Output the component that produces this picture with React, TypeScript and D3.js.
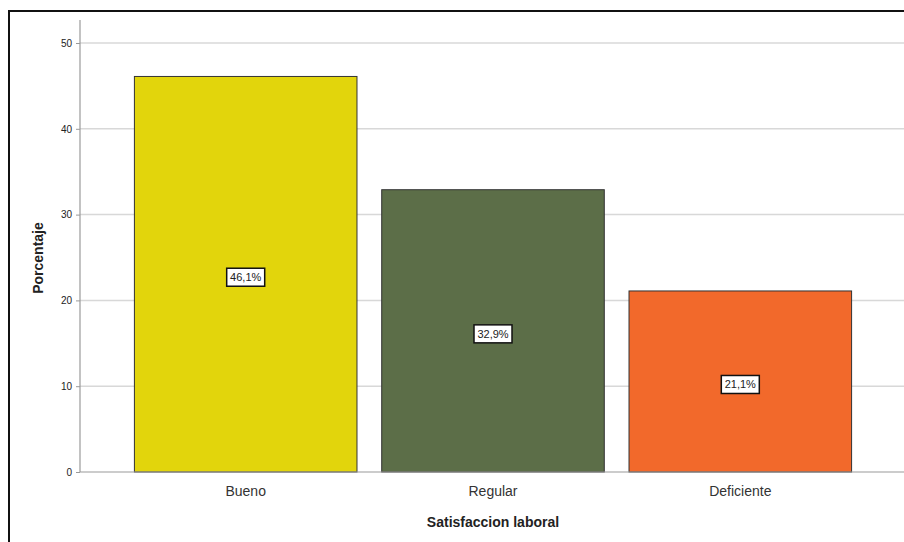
import React, { useEffect, useRef } from 'react';
import * as d3 from 'd3';

const categories = ['Bueno', 'Regular', 'Deficiente'];
const values = [46.1, 32.9, 21.1];
const labels = ['46,1%', '32,9%', '21,1%'];
const colors = ['#e2d50c', '#5c6e48', '#f2692b'];
const yTicks = [0, 10, 20, 30, 40, 50];

const App: React.FC = () => {
  const ref = useRef<SVGSVGElement | null>(null);

  useEffect(() => {
    const svg = d3.select(ref.current);
    svg.selectAll('*').remove();
    const width = 904;
    const height = 542;

    const x = d3.scaleBand<string>()
      .domain(categories)
      .range([80, 906])
      .paddingInner(0.1)
      .paddingOuter(0.22);

    const y = d3.scaleLinear()
      .domain([0, 50])
      .range([472, 43]);

    // frame
    svg.append('rect')
      .attr('x', 9).attr('y', 11)
      .attr('width', width).attr('height', height)
      .attr('fill', '#fff')
      .attr('stroke', '#111')
      .attr('stroke-width', 2);

    // gridlines
    svg.append('g')
      .selectAll('line')
      .data(yTicks.filter(d => d > 0))
      .join('line')
      .attr('x1', 80).attr('x2', width + 10)
      .attr('y1', d => y(d)).attr('y2', d => y(d))
      .attr('stroke', '#d8d8d8')
      .attr('stroke-width', 1.5);

    // y axis
    const yAxis = svg.append('g')
      .attr('transform', 'translate(80,0)')
      .call(d3.axisLeft(y).tickValues(yTicks).tickSize(4).tickPadding(4));
    yAxis.select('.domain').remove();
    yAxis.selectAll('.tick line').attr('stroke', '#999');
    yAxis.selectAll('.tick text')
      .attr('fill', '#222')
      .attr('font-family', 'Arial, "Liberation Sans", sans-serif')
      .attr('font-size', 10);
    svg.append('line')
      .attr('x1', 80).attr('x2', 80)
      .attr('y1', 20).attr('y2', y(0))
      .attr('stroke', '#9a9a9a')
      .attr('stroke-width', 1.2);

    // bars
    svg.append('g')
      .selectAll('rect')
      .data(values)
      .join('rect')
      .attr('x', (d, i) => x(categories[i]) as number)
      .attr('y', d => y(d))
      .attr('width', x.bandwidth())
      .attr('height', d => y(0) - y(d))
      .attr('fill', (d, i) => colors[i])
      .attr('stroke', '#333')
      .attr('stroke-width', 1);

    // baseline
    svg.append('line')
      .attr('x1', 80).attr('x2', width + 10)
      .attr('y1', y(0)).attr('y2', y(0))
      .attr('stroke', '#9a9a9a')
      .attr('stroke-width', 1.2);

    // value labels
    const lab = svg.append('g')
      .selectAll('g')
      .data(values)
      .join('g')
      .attr('transform', (d, i) => `translate(${(x(categories[i]) as number) + x.bandwidth() / 2},${(y(d) + y(0)) / 2 + 3})`);
    lab.append('rect')
      .attr('x', -19).attr('y', -9)
      .attr('width', 38).attr('height', 18)
      .attr('fill', '#fff')
      .attr('stroke', '#111')
      .attr('stroke-width', 1.5);
    lab.append('text')
      .attr('text-anchor', 'middle')
      .attr('dy', '0.35em')
      .attr('font-family', 'Arial, "Liberation Sans", sans-serif')
      .attr('font-size', 11)
      .attr('fill', '#222')
      .text((d, i) => labels[i]);

    // category labels
    svg.append('g')
      .selectAll('text')
      .data(categories)
      .join('text')
      .attr('x', d => (x(d) as number) + x.bandwidth() / 2)
      .attr('y', 496)
      .attr('text-anchor', 'middle')
      .attr('font-family', 'Arial, "Liberation Sans", sans-serif')
      .attr('font-size', 14)
      .attr('fill', '#333')
      .text(d => d);

    // axis titles
    svg.append('text')
      .attr('x', 493).attr('y', 527)
      .attr('text-anchor', 'middle')
      .attr('font-family', 'Arial, "Liberation Sans", sans-serif')
      .attr('font-size', 14)
      .attr('font-weight', 'bold')
      .attr('fill', '#222')
      .text('Satisfaccion laboral');

    svg.append('text')
      .attr('transform', 'translate(43,258) rotate(-90)')
      .attr('text-anchor', 'middle')
      .attr('font-family', 'Arial, "Liberation Sans", sans-serif')
      .attr('font-size', 14)
      .attr('font-weight', 'bold')
      .attr('fill', '#222')
      .text('Porcentaje');
  }, []);

  return (
    <svg
      ref={ref}
      width={904}
      height={542}
      style={{ position: 'absolute', left: 0, top: 0, display: 'block' }}
    />
  );
};

export default App;
